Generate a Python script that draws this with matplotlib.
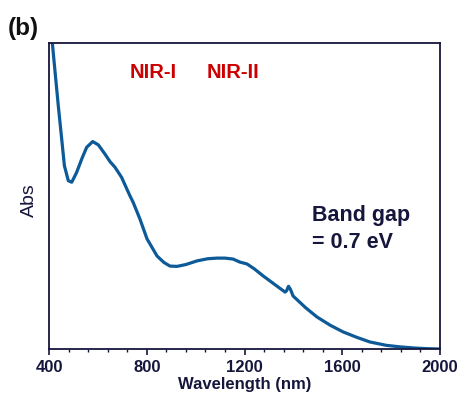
import matplotlib
matplotlib.use("Agg")
import matplotlib.pyplot as plt
from matplotlib.ticker import MultipleLocator

plt.rcParams['font.family'] = ['Liberation Sans', 'DejaVu Sans']

wavelength = [400, 414, 425, 438, 452, 463, 479, 493, 513, 534, 554, 579, 602, 629, 650,
              670, 697, 731, 744, 772, 801, 842, 870, 895, 924, 960, 1006, 1050, 1087, 1120,
              1153, 1181, 1210, 1240, 1276, 1320, 1366, 1372, 1380, 1388, 1399, 1450, 1496,
              1550, 1603, 1660, 1713, 1780, 1836, 1900, 1950, 2000]
absorbance = [1.11, 0.997, 0.904, 0.795, 0.686, 0.599, 0.55, 0.545, 0.577, 0.621, 0.659,
              0.678, 0.667, 0.637, 0.612, 0.594, 0.561, 0.501, 0.48, 0.425, 0.36, 0.304,
              0.283, 0.271, 0.270, 0.276, 0.288, 0.295, 0.297, 0.297, 0.294, 0.284, 0.278,
              0.262, 0.239, 0.213, 0.186, 0.190, 0.205, 0.195, 0.173, 0.135, 0.105, 0.078,
              0.056, 0.038, 0.023, 0.012, 0.007, 0.003, 0.001, 0.0]
xticks = [400, 800, 1200, 1600, 2000]

navy = '#16163c'
line_col = '#0d5a98'

fig = plt.figure(figsize=(4.63, 4.02), dpi=100)
ax = fig.add_axes([49/463, 1-350/402, 391/463, 306/402])
ax.plot(wavelength, absorbance, color=line_col, lw=2.3, solid_joinstyle='round', clip_on=True)
ax.set_xlim(400, 2000)
ax.set_ylim(0, 1)
ax.set_xticks(xticks)
ax.set_xticklabels([str(t) for t in xticks], fontsize=12, fontweight='bold', color=navy)
ax.xaxis.set_minor_locator(MultipleLocator(80))
ax.set_yticks([])
ax.tick_params(axis='x', which='major', direction='out', length=4, width=1.2, color=navy, pad=3)
ax.tick_params(axis='x', which='minor', direction='out', length=2, width=1, color=navy)
for s in ax.spines.values():
    s.set_color(navy)
    s.set_linewidth(1.3)

ax.set_xlabel('Wavelength (nm)', fontsize=12, fontweight='bold', color=navy, labelpad=2)
fig.text(29/463, 1-200/402, 'Abs', rotation=90, fontsize=14, color=navy,
         ha='center', va='center')
fig.text(8/463, 1-28/402, '(b)', fontsize=17.5, fontweight='bold', color='#111111',
         ha='left', va='center')

ax.text(0.207, 0.908, 'NIR-I', transform=ax.transAxes, fontsize=14.5, fontweight='bold',
        color='#cc0000', ha='left', va='center')
ax.text(0.404, 0.908, 'NIR-II', transform=ax.transAxes, fontsize=14.5, fontweight='bold',
        color='#cc0000', ha='left', va='center')
ax.text(0.673, 0.441, 'Band gap', transform=ax.transAxes, fontsize=15.5, fontweight='bold',
        color=navy, ha='left', va='center')
ax.text(0.673, 0.35, '= 0.7 eV', transform=ax.transAxes, fontsize=15.5, fontweight='bold',
        color=navy, ha='left', va='center')

fig.savefig('out.png', dpi=100)
